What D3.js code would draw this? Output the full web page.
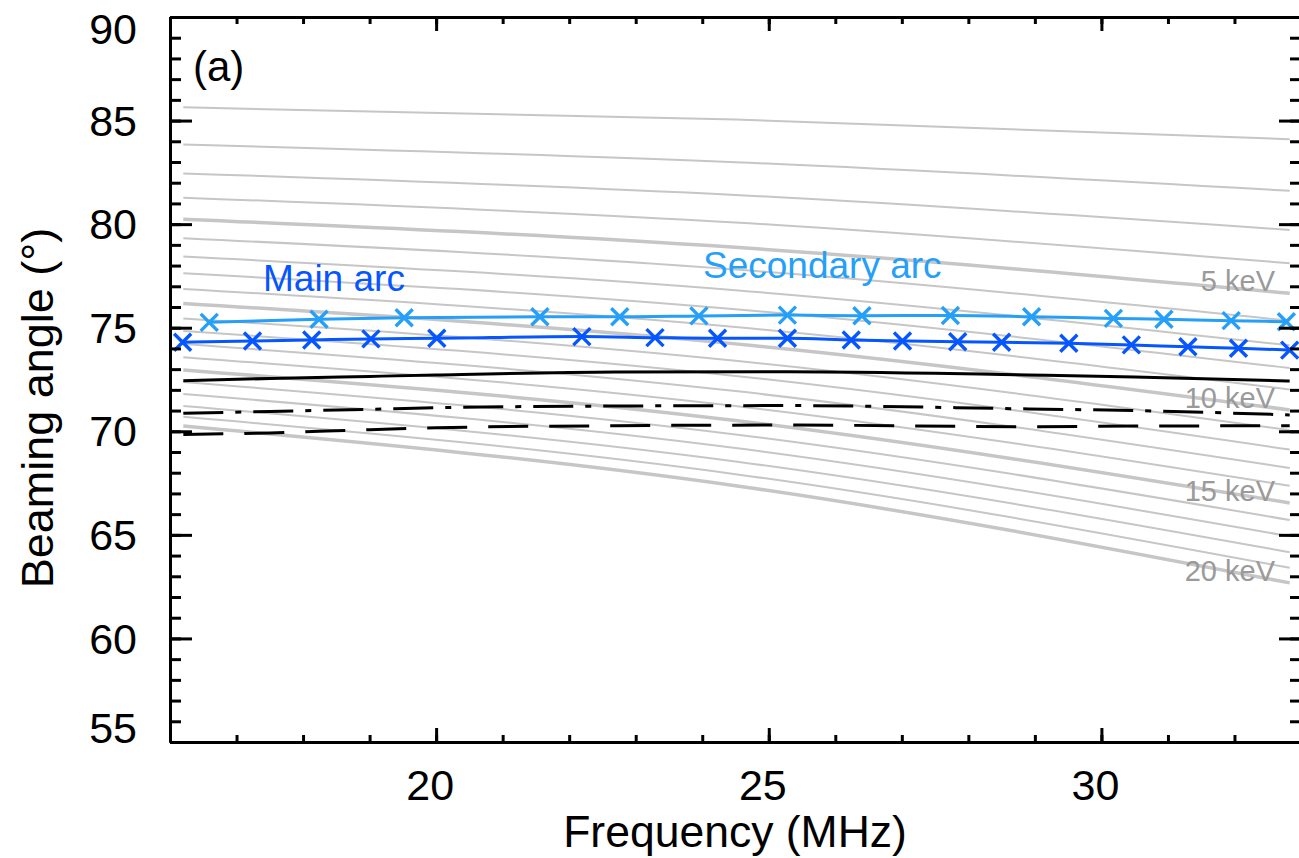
<!DOCTYPE html>
<html>
<head>
<meta charset="utf-8">
<script src="https://cdn.jsdelivr.net/npm/d3@7"></script>
<style>
  body { margin: 0; background: #fff; }
  svg text { font-family: "Liberation Sans", Arial, Helvetica, sans-serif; }
</style>
</head>
<body>
<div id="chart"></div>
<script>
// Энергии электронов (keV) для серых кривых
const energies = [1, 2, 3, 4, 5, 6, 7, 8, 9, 10, 11, 12, 13, 14, 15, 16, 17, 18, 19, 20];
// Частоты, где считаны значения серых кривых
const greyFreq = [16.2, 24.5, 32.83];
// Углы серых кривых: начало, середина, конец
const greyStart = [85.64, 83.84, 82.45, 81.28, 80.24, 79.32, 78.44, 77.63, 76.87, 76.17,
                   75.45, 74.84, 74.21, 73.58, 72.96, 72.38, 71.80, 71.22, 70.70, 70.25];
const greyMid = [85.05, 82.99, 81.41, 80.08, 78.88, 77.81, 76.81, 75.89, 75.03, 74.22,
                 73.40, 72.67, 71.94, 71.22, 70.52, 69.85, 69.19, 68.54, 67.93, 67.37];
const greyEnd = [84.10, 81.61, 79.72, 78.11, 76.66, 75.34, 74.15, 73.05, 72.02, 71.03,
                 70.05, 69.12, 68.23, 67.37, 66.54, 65.72, 64.93, 64.16, 63.41, 62.68];
const labelledEnergies = [5, 10, 15, 20];

// Основная дуга
const mainFreq = [16.19, 17.24, 18.13, 19.02, 20.01, 22.19, 23.29, 24.23, 25.28, 26.24,
                  27.01, 27.84, 28.50, 29.51, 30.45, 31.30, 32.06, 32.83];
const mainAngle = [74.30, 74.36, 74.41, 74.46, 74.49, 74.57, 74.52, 74.49, 74.49, 74.41,
                   74.36, 74.32, 74.30, 74.25, 74.17, 74.08, 74.01, 73.92];

// Вторичная дуга
const secFreq = [16.59, 18.24, 19.52, 21.56, 22.76, 23.95, 25.28, 26.40, 27.73, 28.95,
                 30.18, 30.94, 31.95, 32.78];
const secAngle = [75.26, 75.41, 75.48, 75.53, 75.53, 75.57, 75.61, 75.58, 75.59, 75.53,
                  75.45, 75.41, 75.34, 75.29];

// Модельные кривые (чёрные)
const modelFreq = [16.2, 17.5, 19, 20, 22.7, 25.3, 28.9, 30.5, 32.83];
const solidAngle = [72.44, 72.55, 72.65, 72.72, 72.86, 72.88, 72.72, 72.62, 72.43];
const dashDotAngle = [70.87, 70.96, 71.06, 71.14, 71.22, 71.24, 71.08, 71.00, 70.79];
const dashAngle = [69.85, 69.92, 70.08, 70.17, 70.27, 70.30, 70.22, 70.25, 70.27];

// Деления осей
const xMajor = [20, 25, 30];
const xMinor = d3.range(16, 34, 1);
const yMajor = [55, 60, 65, 70, 75, 80, 85, 90];
const yMinor = d3.range(55, 91, 1);

const mainColor = '#0656ff';
const secColor = '#259ff7';
const greyColor = '#c6c6c6';

const width = 1299;
const height = 858;

const svg = d3.select('#chart').append('svg')
    .attr('width', width)
    .attr('height', height);

const x = d3.scaleLinear().domain([16, 33]).range([170, 1301]);
const y = d3.scaleLinear().domain([55, 90]).range([742, 17]);

const line = d3.line()
    .x(d => x(d[0]))
    .y(d => y(d[1]));

// Серые кривые
energies.forEach((e, i) => {
    const pts = greyFreq.map((f, j) => [f, [greyStart[i], greyMid[i], greyEnd[i]][j]]);
    svg.append('path')
        .attr('d', line.curve(d3.curveNatural)(pts))
        .attr('fill', 'none')
        .attr('stroke', greyColor)
        .attr('stroke-width', e % 5 === 0 ? 3.5 : 2);
});

// Подписи энергий
svg.selectAll('.kev-label')
    .data(labelledEnergies)
    .enter()
    .append('text')
    .attr('class', 'kev-label')
    .attr('x', 1275)
    .attr('y', e => y(greyEnd[e - 1]) - 2)
    .attr('text-anchor', 'end')
    .style('font-size', '29px')
    .style('fill', '#9a9a9a')
    .text(e => e + ' keV');

// Чёрные модельные линии
const blackLines = [
    {vals: solidAngle, dash: null},
    {vals: dashDotAngle, dash: '40,12,6,12'},
    {vals: dashAngle, dash: '40,21'}
];
blackLines.forEach(b => {
    svg.append('path')
        .attr('d', line.curve(d3.curveMonotoneX)(modelFreq.map((f, i) => [f, b.vals[i]])))
        .attr('fill', 'none')
        .attr('stroke', '#000')
        .attr('stroke-width', 3)
        .attr('stroke-dasharray', b.dash);
});

// Дуги: линии и крестики
function drawArc(freqs, angles, color) {
    const pts = freqs.map((f, i) => [f, angles[i]]);
    svg.append('path')
        .attr('d', line.curve(d3.curveMonotoneX)(pts))
        .attr('fill', 'none')
        .attr('stroke', color)
        .attr('stroke-width', 3);
    const s = 8.5;
    svg.append('g').selectAll('path')
        .data(pts)
        .enter()
        .append('path')
        .attr('d', d => `M${x(d[0]) - s},${y(d[1]) - s}L${x(d[0]) + s},${y(d[1]) + s}` +
                        `M${x(d[0]) - s},${y(d[1]) + s}L${x(d[0]) + s},${y(d[1]) - s}`)
        .attr('stroke', color)
        .attr('stroke-width', 3.4);
}
drawArc(secFreq, secAngle, secColor);
drawArc(mainFreq, mainAngle, mainColor);

svg.append('text')
    .attr('x', 263).attr('y', 291)
    .style('font-size', '37px')
    .style('fill', mainColor)
    .text('Main arc');

svg.append('text')
    .attr('x', 703).attr('y', 278)
    .style('font-size', '37px')
    .style('fill', secColor)
    .text('Secondary arc');

// Оси
function styleAxis(g) {
    g.select('.domain').attr('stroke', '#000').attr('stroke-width', 3);
    g.selectAll('.tick line').attr('stroke', '#000').attr('stroke-width', 3);
    g.selectAll('.tick text').style('font-size', '43px').attr('fill', '#000')
        .style('font-family', '"Liberation Sans", Arial, Helvetica, sans-serif');
}

// Левая ось
const gLeft = svg.append('g').attr('transform', `translate(${x(16)},0)`)
    .call(d3.axisLeft(y).tickValues(yMajor).tickSize(-22).tickSizeOuter(0).tickPadding(33))
    .call(styleAxis);
gLeft.selectAll('.tick text').attr('dy', d => d === 90 ? '0.62em' : d === 55 ? '0.0em' : '0.34em');
svg.append('g').attr('transform', `translate(${x(16)},0)`)
    .call(d3.axisLeft(y).tickValues(yMinor).tickSize(-11).tickSizeOuter(0).tickFormat(''))
    .call(styleAxis);

// Правая ось
svg.append('g').attr('transform', `translate(${x(33)},0)`)
    .call(d3.axisRight(y).tickValues(yMajor).tickSize(-22).tickSizeOuter(0).tickFormat(''))
    .call(styleAxis);
svg.append('g').attr('transform', `translate(${x(33)},0)`)
    .call(d3.axisRight(y).tickValues(yMinor).tickSize(-11).tickSizeOuter(0).tickFormat(''))
    .call(styleAxis);

// Нижняя ось
const gBottom = svg.append('g').attr('transform', `translate(0,${y(55)})`)
    .call(d3.axisBottom(x).tickValues(xMajor).tickSize(-14).tickSizeOuter(0).tickPadding(27))
    .call(styleAxis);
gBottom.selectAll('.tick text').attr('dx', '-0.15em');
svg.append('g').attr('transform', `translate(0,${y(55)})`)
    .call(d3.axisBottom(x).tickValues(xMinor).tickSize(-7).tickSizeOuter(0).tickFormat(''))
    .call(styleAxis);

// Верхняя ось
svg.append('g').attr('transform', `translate(0,${y(90)})`)
    .call(d3.axisTop(x).tickValues(xMajor).tickSize(-14).tickSizeOuter(0).tickFormat(''))
    .call(styleAxis);
svg.append('g').attr('transform', `translate(0,${y(90)})`)
    .call(d3.axisTop(x).tickValues(xMinor).tickSize(-7).tickSizeOuter(0).tickFormat(''))
    .call(styleAxis);

// Подписи осей
svg.append('text')
    .attr('x', 735).attr('y', 847)
    .attr('text-anchor', 'middle')
    .style('font-size', '44.5px')
    .text('Frequency (MHz)');

svg.append('text')
    .attr('transform', 'translate(53,408) rotate(-90)')
    .attr('text-anchor', 'middle')
    .style('font-size', '45px')
    .text('Beaming angle (°)');

svg.append('text')
    .attr('x', 193).attr('y', 81)
    .style('font-size', '42px')
    .text('(a)');
</script>
</body>
</html>
